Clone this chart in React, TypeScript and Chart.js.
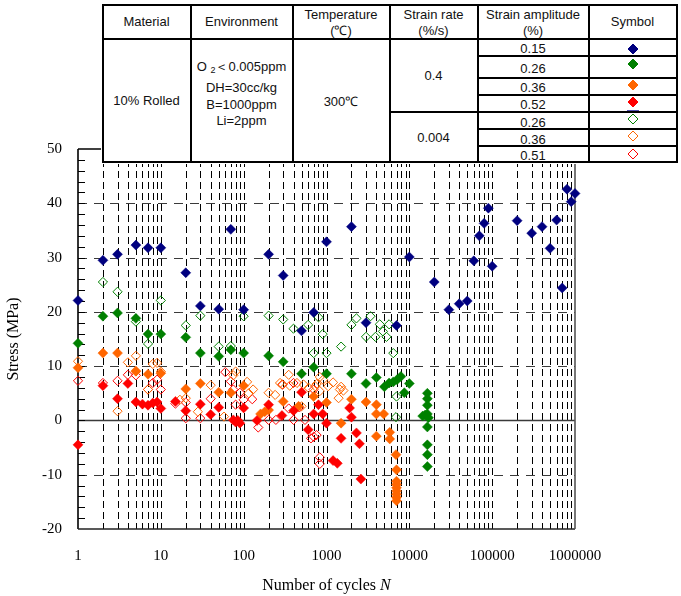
import React, { useEffect, useRef } from 'react';
import { Chart, registerables } from 'chart.js';

Chart.register(...registerables);

type Pt = [number, number];

// Axis definitions
const X_DECADES: number[] = [1, 10, 100, 1000, 10000, 100000, 1000000];
const X_TICK_LABELS: string[] = ['1', '10', '100', '1000', '10000', '100000', '1000000'];
const X_MULTIPLIERS: number[] = [1, 2, 3, 4, 5, 6, 7, 8, 9];
const Y_MAJOR: number[] = [-20, -10, 0, 10, 20, 30, 40, 50];
const Y_TICK_LABELS: string[] = ['-20', '-10', '0', '10', '20', '30', '40', '50'];
const Y_MINOR_STEP = 2;

// Table text
const AMPLITUDE_LABELS: string[] = ['0.15', '0.26', '0.36', '0.52', '0.26', '0.36', '0.51'];
const RATE_LABELS: string[] = ['0.4', '0.004'];
const ENVIRONMENT_LINES: string[] = ['DH=30cc/kg', 'B=1000ppm', 'Li=2ppm'];

// Stress vs. number of cycles, [N, stress (MPa)]
// strain rate 0.4 %/s
const AMP015_FAST: Pt[] = [
  [1, 22.1], [2, 29.5], [3, 30.6], [5, 32.3], [7, 31.8], [10, 31.8], [20, 27.2], [30, 21.1],
  [50, 20.5], [70, 35.2], [100, 20.4], [200, 30.6], [300, 26.7], [500, 16.5], [700, 19.9],
  [1000, 32.9], [2000, 35.7], [3000, 18.0], [7000, 17.5], [10000, 30.1], [20000, 25.5],
  [30000, 20.4], [40000, 21.5], [50000, 22.0], [60000, 29.4], [70000, 34.0], [80000, 36.3],
  [90000, 39.1], [100000, 28.4], [200000, 36.8], [300000, 34.5], [400000, 35.7],
  [500000, 31.7], [600000, 36.9], [700000, 24.4], [800000, 42.6], [900000, 40.3],
  [1000000, 41.8],
];
const AMP026_FAST: Pt[] = [
  [1, 14.2], [2, 19.2], [3, 19.8], [5, 18.8], [7, 15.9], [10, 15.9], [20, 15.3], [30, 12.4],
  [50, 11.8], [70, 13.0], [100, 12.4], [200, 11.9], [300, 10.8], [500, 8.6], [700, 9.8],
  [1000, 8.6], [2000, 8.6], [3000, 6.8], [4000, 7.9], [5000, 6.2], [5700, 6.9], [6400, 7.1],
  [7100, 7.5], [7900, 8.1], [8700, 5.1], [10000, 6.8], [14500, 0.8], [15500, 1.0],
  [16500, 5.0], [16500, 4.0], [16500, 2.8], [16500, 1.2], [17000, 0.5], [16500, -1.2],
  [16500, -4.5], [16500, -6.3], [16500, -8.5],
];
const AMP036_FAST: Pt[] = [
  [1, 9.7], [2, 12.4], [3, 12.4], [5, 9.1], [7, 8.5], [10, 8.7], [20, 5.8], [30, 6.8],
  [50, 5.2], [70, 5.1], [100, 6.4], [160, 1.2], [180, 1.6], [200, 1.9], [300, 3.5], [460, 2.6],
  [700, 4.4], [1000, 3.3], [1500, -0.5], [2000, 3.9], [3000, 3.4], [4000, 2.9], [4000, 1.2],
  [4900, 1.2], [4000, -2.9], [5800, -2.2], [5800, -3.4], [6900, -6.3], [7000, -9.1],
  [7000, -11.2], [7000, -11.8], [7000, -12.4], [7000, -13.0], [7000, -13.6], [7000, -14.2],
  [7000, -14.8],
];
const AMP052_FAST: Pt[] = [
  [1, -4.5], [2, 6.4], [3, 4.0], [4, 6.8], [5, 3.4], [6, 3.0], [7, 2.8], [8, 3.2], [9, 3.4],
  [10, 2.2], [15, 3.5], [20, 1.8], [30, 3.0], [40, 1.1], [50, 2.4], [75, 0.1], [80, -0.3],
  [85, 0.0], [90, -0.5], [100, 2.3], [145, 0.0], [200, 2.9], [290, 0.9], [400, 1.8],
  [500, 5.2], [600, -1.7], [700, 1.2], [800, 2.9], [900, 1.2], [1000, -0.5], [1200, -7.4],
  [1350, -7.9], [1500, -3.3], [1900, 2.3], [2000, 0.6], [2300, -2.3], [2500, -4.3],
  [2600, -10.8],
];
// strain rate 0.004 %/s
const AMP026_SLOW: Pt[] = [
  [2, 25.5], [3, 23.7], [5, 18.2], [7, 14.1], [10, 22.1], [20, 17.5], [30, 19.3], [50, 13.6],
  [70, 13.7], [100, 19.2], [200, 19.3], [300, 18.6], [400, 16.9], [600, 17.6], [700, 12.4],
  [800, 19.0], [900, 15.9], [1000, 12.4], [1500, 13.6], [2000, 17.6], [2300, 18.8],
  [3000, 15.4], [3400, 19.2], [3900, 15.4], [4400, 17.7], [4800, 16.4], [5300, 15.4],
  [5700, 17.7], [6400, 12.4], [7000, 4.4], [6900, 0.6],
];
const AMP036_SLOW: Pt[] = [
  [1, 10.9], [3, 1.7], [4, 10.7], [5, 11.9], [5, 9.0], [7, 5.7], [8, 10.4], [9, 10.6],
  [10, 9.0], [17, 3.8], [20, 4.1], [28, 1.6], [40, 6.5], [58, 0.7], [75, 8.3], [80, 9.0],
  [110, 7.1], [115, 5.0], [130, 5.7], [200, 5.1], [240, 4.7], [275, 6.9], [290, 6.6],
  [350, 8.4], [360, 6.4], [440, 6.9], [500, 2.6], [530, 6.6], [610, 6.0], [730, 6.3],
  [760, 6.7], [830, 5.4], [830, 8.0], [910, 7.5], [1050, 6.3], [1200, 7.0], [1400, 4.1],
  [1450, 5.7], [1500, 6.2], [1600, 5.5],
];
const AMP051_SLOW: Pt[] = [
  [1, 7.3], [2, 6.9], [3, 7.3], [4, 8.4], [5, 8.3], [7, 5.7], [8, 6.9], [9, 7.5], [10, 5.7],
  [15, 3.1], [20, 0.4], [20, 3.3], [30, 0.4], [40, 4.0], [60, 8.9], [70, 7.2], [75, 5.7],
  [80, 2.9], [90, 5.1], [100, 3.8], [127, 3.9], [150, -1.3], [200, 0.1], [245, 0.1],
  [295, 6.6], [350, 2.2], [400, 0.1], [400, 6.9], [470, 2.4], [550, 0.1], [650, -3.3],
  [700, 5.7], [700, -3.0], [760, -2.7], [830, -6.8], [830, -8.0],
];

const NAVY = '#000080';
const GREEN = '#008000';
const ORANGE = '#FF6600';
const RED = '#FF0000';

const SERIF = "'Times New Roman', 'Liberation Serif', serif";
const SANS = "Arial, 'Liberation Sans', sans-serif";

const X_GRID: number[] = X_DECADES.flatMap((d) =>
  d === 1000000 ? [d] : X_MULTIPLIERS.map((m) => d * m)
);

const makeSeries = (label: string, data: Pt[], color: string, filled: boolean) => ({
  label,
  data: data.map(([x, y]) => ({ x, y })),
  showLine: false,
  clip: false as const,
  pointStyle: 'rectRot' as const,
  pointRadius: filled ? 5 : 4.6,
  pointBorderWidth: filled ? 0.5 : 1,
  pointBackgroundColor: filled ? color : 'rgba(255,255,255,0)',
  pointBorderColor: color,
  pointHoverRadius: filled ? 5 : 4.6,
});

// Dashed grid, zero line, inner minor ticks and the plot frame
const frameGrid = {
  id: 'frameGrid',
  beforeDatasetsDraw(chart: any) {
    const { ctx, chartArea, scales } = chart;
    const { left, right, top, bottom } = chartArea;
    const xs = scales.x;
    const ys = scales.y;
    const seg = (x1: number, y1: number, x2: number, y2: number) => {
      ctx.beginPath();
      ctx.moveTo(x1, y1);
      ctx.lineTo(x2, y2);
      ctx.stroke();
    };
    ctx.save();
    ctx.lineWidth = 1;
    ctx.strokeStyle = '#000';
    ctx.setLineDash([7, 4]);
    for (const v of X_GRID) {
      if (v === 1 || v === 1000000) continue;
      const px = Math.round(xs.getPixelForValue(v)) + 0.5;
      seg(px, top, px, bottom);
    }
    ctx.strokeStyle = '#3a3a3a';
    ctx.setLineDash([9, 7]);
    for (const v of Y_MAJOR) {
      if (v === 0 || v === -20 || v === 50) continue;
      const py = Math.round(ys.getPixelForValue(v)) + 0.5;
      seg(left, py, right, py);
    }
    ctx.setLineDash([]);
    ctx.strokeStyle = '#3a3a3a';
    ctx.lineWidth = 1.6;
    const y0 = ys.getPixelForValue(0);
    seg(left, y0, right, y0);
    // minor ticks along the stress axis, pointing inward
    ctx.lineWidth = 1;
    ctx.strokeStyle = '#000';
    for (let v = -20 + Y_MINOR_STEP; v < 50; v += Y_MINOR_STEP) {
      const py = Math.round(ys.getPixelForValue(v)) + 0.5;
      seg(left, py, left + 7, py);
    }
    // frame
    ctx.lineWidth = 1.6;
    ctx.strokeStyle = '#000';
    seg(left, top, left, bottom);
    seg(left, top, right, top);
    ctx.strokeStyle = '#222';
    seg(left, bottom, right, bottom);
    ctx.strokeStyle = '#555';
    seg(right, top, right, bottom);
    ctx.restore();
  },
};

const hLine = (x1: number, x2: number, y: number, key: string) => (
  <div
    key={key}
    style={{ position: 'absolute', left: x1 - 1, top: y - 1, width: x2 - x1 + 2, height: 2, background: '#000' }}
  />
);
const vLine = (x: number, y1: number, y2: number, key: string) => (
  <div
    key={key}
    style={{ position: 'absolute', left: x - 1, top: y1 - 1, width: 2, height: y2 - y1 + 2, background: '#000' }}
  />
);

const Cell: React.FC<{ x1: number; x2: number; y1: number; y2: number; children: React.ReactNode }> = ({
  x1, x2, y1, y2, children,
}) => (
  <div
    style={{
      position: 'absolute', left: x1, top: y1, width: x2 - x1, height: y2 - y1,
      display: 'flex', alignItems: 'center', justifyContent: 'center', textAlign: 'center',
      whiteSpace: 'nowrap',
    }}
  >
    {children}
  </div>
);

const Diamond: React.FC<{ cx: number; cy: number; color: string; filled: boolean }> = ({ cx, cy, color, filled }) => (
  <svg style={{ position: 'absolute', left: cx - 7, top: cy - 7 }} width={14} height={14}>
    <polygon
      points="7,2 12,7 7,12 2,7"
      fill={filled ? color : 'none'}
      stroke={color}
      strokeWidth={1}
    />
  </svg>
);

function ConditionsTable() {
  const cols = [102.5, 190.5, 292.5, 389.5, 477.5, 588.5, 676.5];
  const top = 5;
  const head = 38.5;
  const bottom = 162;
  const rows = [38.5, 56, 77.5, 94.5, 112, 129, 146, 162];
  const symbolColors = [NAVY, GREEN, ORANGE, RED, GREEN, ORANGE, RED];
  const symbolY = [49, 64, 85, 102, 119, 136, 153.5];
  const lines: React.ReactNode[] = [];
  lines.push(hLine(cols[0], cols[6], top, 't'));
  lines.push(hLine(cols[0], cols[6], head, 'h'));
  lines.push(hLine(cols[0], cols[6], bottom, 'b'));
  cols.forEach((c, i) => lines.push(vLine(c, top, bottom, 'c' + i)));
  lines.push(hLine(cols[3], cols[4], 112, 'rate'));
  rows.slice(1, -1).forEach((r, i) => lines.push(hLine(cols[4], cols[6], r, 'r' + i)));

  return (
    <div
      style={{
        position: 'absolute', left: 101, top: 4, width: 577, height: 160, background: '#fff',
        fontFamily: SANS, fontSize: 13, color: '#111',
      }}
    >
      <div style={{ position: 'absolute', left: -101, top: -4 }}>
        <div style={{ position: 'absolute', left: cols[0], top: top, width: cols[6] - cols[0], height: bottom - top, background: '#fff' }} />
        <Cell x1={cols[0]} x2={cols[1]} y1={top} y2={head}>Material</Cell>
        <Cell x1={cols[1]} x2={cols[2]} y1={top} y2={head}>Environment</Cell>
        <div style={{ position: 'absolute', left: cols[2], width: cols[3] - cols[2], top: 6.5, lineHeight: '16.7px', textAlign: 'center' }}>
          Temperature<br />(℃)
        </div>
        <div style={{ position: 'absolute', left: cols[3], width: cols[4] - cols[3], top: 6.5, lineHeight: '16.7px', textAlign: 'center' }}>
          Strain rate<br />(%/s)
        </div>
        <div style={{ position: 'absolute', left: cols[4], width: cols[5] - cols[4], top: 6.5, lineHeight: '16.7px', textAlign: 'center' }}>
          Strain amplitude<br />(%)
        </div>
        <Cell x1={cols[5]} x2={cols[6]} y1={top} y2={head}>Symbol</Cell>

        <Cell x1={cols[0]} x2={cols[1]} y1={head} y2={bottom + 1}>10% Rolled</Cell>
        <div style={{ position: 'absolute', left: cols[1], width: cols[2] - cols[1], top: 58, lineHeight: '17px', textAlign: 'center', whiteSpace: 'nowrap' }}>
          O <span style={{ fontSize: 9, position: 'relative', top: 2 }}>2</span>＜0.005ppm
        </div>
        {ENVIRONMENT_LINES.map((t, i) => (
          <div
            key={t}
            style={{ position: 'absolute', left: cols[1], width: cols[2] - cols[1], top: 79 + i * 16.5, lineHeight: '17px', textAlign: 'center' }}
          >
            {t}
          </div>
        ))}
        <Cell x1={cols[2]} x2={cols[3]} y1={head} y2={bottom + 2}>300℃</Cell>
        <Cell x1={cols[3]} x2={cols[4]} y1={head} y2={112}>{RATE_LABELS[0]}</Cell>
        <Cell x1={cols[3]} x2={cols[4]} y1={112} y2={bottom}>{RATE_LABELS[1]}</Cell>
        {AMPLITUDE_LABELS.map((t, i) => (
          <Cell key={'a' + i} x1={cols[4]} x2={cols[5]} y1={rows[i] + 1} y2={rows[i + 1] + 2}>{t}</Cell>
        ))}
        {symbolColors.map((c, i) => (
          <Diamond key={'s' + i} cx={632.5} cy={symbolY[i]} color={c} filled={i < 4} />
        ))}
        <div style={{ position: 'absolute', left: 627, top: 109.5, width: 12, height: 1, background: '#5050b0' }} />
        {lines}
      </div>
    </div>
  );
}

export default function App() {
  const canvasRef = useRef<HTMLCanvasElement | null>(null);

  useEffect(() => {
    if (!canvasRef.current) return;
    const chart = new Chart(canvasRef.current, {
      type: 'scatter',
      data: {
        datasets: [
          makeSeries('0.15% (0.4%/s)', AMP015_FAST, NAVY, true),
          makeSeries('0.26% (0.4%/s)', AMP026_FAST, GREEN, true),
          makeSeries('0.52% (0.4%/s)', AMP052_FAST, RED, true),
          makeSeries('0.36% (0.4%/s)', AMP036_FAST, ORANGE, true),
          makeSeries('0.26% (0.004%/s)', AMP026_SLOW, GREEN, false),
          makeSeries('0.36% (0.004%/s)', AMP036_SLOW, ORANGE, false),
          makeSeries('0.51% (0.004%/s)', AMP051_SLOW, RED, false),
        ],
      },
      options: {
        responsive: false,
        animation: false,
        devicePixelRatio: 1,
        layout: { padding: { left: 0, top: 149, right: 106, bottom: 0 } },
        plugins: {
          legend: { display: false },
          tooltip: { enabled: false },
        },
        scales: {
          x: {
            type: 'logarithmic',
            min: 1,
            max: 1000000,
            afterBuildTicks: (s: any) => {
              s.ticks = X_GRID.map((value) => ({ value }));
            },
            afterFit: (s: any) => {
              s.height = 67;
            },
            grid: { display: false, drawTicks: false },
            border: { display: false },
            ticks: {
              autoSkip: false,
              maxRotation: 0,
              minRotation: 0,
              padding: 18,
              color: '#000',
              font: { family: SERIF, size: 15 },
              callback: (v: any) => {
                const i = X_DECADES.indexOf(Number(v));
                return i >= 0 ? X_TICK_LABELS[i] : '';
              },
            },
          },
          y: {
            type: 'linear',
            min: -20,
            max: 50,
            afterBuildTicks: (s: any) => {
              s.ticks = Y_MAJOR.map((value) => ({ value }));
            },
            afterFit: (s: any) => {
              s.width = 78;
            },
            grid: { display: false, drawTicks: false },
            border: { display: false },
            ticks: {
              padding: 16,
              color: '#000',
              font: { family: SERIF, size: 15 },
              callback: (v: any) => {
                const i = Y_MAJOR.indexOf(Number(v));
                return i >= 0 ? Y_TICK_LABELS[i] : '';
              },
            },
            title: {
              display: true,
              text: 'Stress (MPa)',
              color: '#000',
              font: { family: SERIF, size: 16 },
              padding: { top: 4, bottom: 0 },
            },
          },
        },
      },
      plugins: [frameGrid],
    } as any);
    return () => chart.destroy();
  }, []);

  return (
    <div style={{ position: 'absolute', left: 0, top: 0, width: 681, height: 596, background: '#fff', overflow: 'hidden' }}>
      <canvas ref={canvasRef} width={681} height={596} style={{ position: 'absolute', left: 0, top: 0, width: 681, height: 596 }} />
      <ConditionsTable />
      <div
        style={{
          position: 'absolute', left: 226.5, width: 200, top: 575, textAlign: 'center',
          fontFamily: SERIF, fontSize: 16, lineHeight: '20px', color: '#000', whiteSpace: 'nowrap',
        }}
      >
        Number of cycles <i>N</i>
      </div>
    </div>
  );
}
